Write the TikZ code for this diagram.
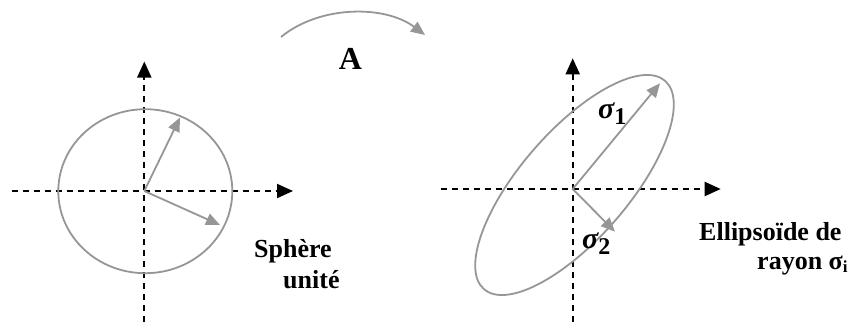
\documentclass[tikz,border=0pt]{standalone}
\usepackage{fontspec}
\setmainfont{Liberation Serif}
\usetikzlibrary{arrows.meta}
\definecolor{vecgray}{RGB}{150,150,150}
\begin{document}
\begin{tikzpicture}[x=1pt,y=-1pt,
  axis/.style={black,line width=2pt,dash pattern=on 6.5pt off 4.5pt,-{Triangle[length=16pt,width=14pt]}},
  vec/.style={vecgray,line width=1.8pt,-{Triangle[length=14pt,width=12pt]}},
  curve/.style={vecgray,line width=1.8pt},
  lbl/.style={inner sep=0pt,font=\bfseries\fontsize{26}{28}\selectfont},
  sig/.style={inner sep=0pt,font=\bfseries\fontsize{30}{30}\selectfont}]
\useasboundingbox (0,0) rectangle (854,322);
% left diagram
\coordinate (O1) at (144.3,191);
\coordinate (L1b) at (144.3,322);
\coordinate (L1t) at (144.3,61.5);
\coordinate (L1l) at (11.7,191);
\coordinate (L1r) at (293,191);
\draw[axis] (L1b) -- (L1t);
\draw[axis] (L1l) -- (L1r);
\draw[curve] (145.3,191.2) ellipse [x radius=87, y radius=82];
\coordinate (u1) at (180,117.5);
\coordinate (u2) at (220,225);
\draw[vec] (O1) -- (u1);
\draw[vec] (O1) -- (u2);
\node[lbl,anchor=base west] (sph) at (254,257) {Sphère};
\node[lbl,anchor=base west] (uni) at (283,288) {unité};
% arrow A
\coordinate (As) at (281,37);
\coordinate (Ae) at (425,35);
\draw[vec] (As) .. controls (320,5) and (385,5) .. (Ae);
\node[inner sep=0pt,anchor=base,font=\bfseries\fontsize{32}{32}\selectfont] (A) at (350.5,69.3) {A};
% right diagram
\coordinate (O2) at (572.7,189);
\coordinate (R2b) at (572.7,322);
\coordinate (R2t) at (572.7,58.3);
\coordinate (R2l) at (440.7,189);
\coordinate (R2r) at (720.7,189);
\draw[axis] (R2b) -- (R2t);
\draw[axis] (R2l) -- (R2r);
\draw[curve,rotate around={49:(574.5,185)}] (574.5,185) ellipse [x radius=138, y radius=54];
\coordinate (s1) at (660,83.3);
\coordinate (s2) at (615,231.7);
\draw[vec] (O2) -- (s1);
\draw[vec] (O2) -- (s2);
\node[sig,anchor=base west] (sg1) at (598,118) {\itshape σ\raisebox{-6pt}{\upshape\fontsize{24}{24}\selectfont 1}};
\node[sig,anchor=base west] (sg2) at (582,248) {\itshape σ\raisebox{-6pt}{\upshape\fontsize{24}{24}\selectfont 2}};
\node[lbl,anchor=base west] (ell) at (699,240) {Ellipsoïde de};
\node[lbl,anchor=base west] (ray) at (757,269) {rayon σ\raisebox{-3pt}{\fontsize{17}{17}\selectfont i}};
\end{tikzpicture}
\end{document}
